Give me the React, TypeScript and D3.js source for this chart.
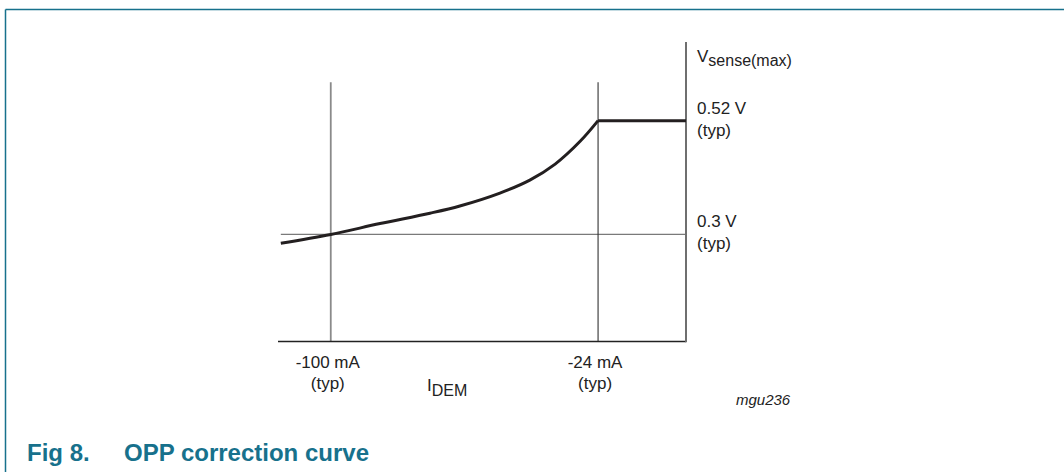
import React from 'react';
import * as d3 from 'd3';

// OPP correction curve: Vsense(max) versus IDEM
const currentMA = [-114.2, -100, -86.0, -71.8, -63.3, -51.9, -43.4, -36.2, -29.1, -24];
const vsenseV = [0.283, 0.300, 0.321, 0.341, 0.355, 0.380, 0.405, 0.436, 0.480, 0.52];
const plateauMA = [-24, 1];
const plateauV = [0.52, 0.52];

const xTicks = [-100, -24];
const xTickLabels = ['-100 mA', '-24 mA'];
const yTicks = [0.3, 0.52];
const yTickLabels = ['0.3 V', '0.52 V'];

const teal = '#17718c';
const font = 'Liberation Sans, Arial, sans-serif';

export default function App() {
  const width = 1064;
  const height = 472;

  const x = d3.scaleLinear().domain([-115, 1]).range([278, 686]);
  const y = d3.scaleLinear().domain([0.093, 0.672]).range([341.5, 42]);

  const curvePts: [number, number][] = currentMA.map((d, i) => [d, vsenseV[i]]);
  const plateauPts: [number, number][] = plateauMA.map((d, i) => [d, plateauV[i]]);

  const smooth = d3.line<[number, number]>()
    .x(d => x(d[0]))
    .y(d => y(d[1]))
    .curve(d3.curveCatmullRom.alpha(0.5));
  const straight = d3.line<[number, number]>().x(d => x(d[0])).y(d => y(d[1]));

  const axisX = x(1);
  const axisY = y(0.093);
  const gridTop = y(0.594);

  return (
    <svg width={width} height={height} style={{ position: 'absolute', left: 0, top: 0 }} fontFamily={font}>
      <rect width={width} height={height} fill="#fff" />
      {/* frame */}
      <line x1={5.5} x2={width} y1={9.5} y2={9.5} stroke={teal} strokeWidth={1.5} />
      <line x1={5.5} x2={5.5} y1={9.5} y2={height} stroke={teal} strokeWidth={1.5} />

      {/* reference lines */}
      <line x1={x(currentMA[0])} x2={axisX} y1={y(0.3)} y2={y(0.3)} stroke="#7a7a7a" strokeWidth={1.2} />
      <line x1={x(-100)} x2={x(-100)} y1={gridTop} y2={axisY} stroke="#8a8a8a" strokeWidth={1.8} />
      <line x1={x(-24)} x2={x(-24)} y1={gridTop} y2={axisY} stroke="#333" strokeWidth={1.1} />

      {/* axes */}
      <line x1={x(-115)} x2={axisX} y1={axisY} y2={axisY} stroke="#222" strokeWidth={1.6} />
      <line x1={axisX} x2={axisX} y1={y(0.672)} y2={axisY + 0.8} stroke="#6f6f6f" strokeWidth={2} />

      {/* curve */}
      <path d={smooth(curvePts) ?? ''} fill="none" stroke="#231f20" strokeWidth={3} />
      <path d={straight(plateauPts) ?? ''} fill="none" stroke="#231f20" strokeWidth={3} />

      {/* y labels */}
      <text x={axisX + 11} y={62} fontSize={17} fill="#222">
        V<tspan fontSize={16} dy={4}>sense(max)</tspan>
      </text>
      {yTicks.map((v, i) => (
        <g key={v} fontSize={17} fill="#222">
          <text x={axisX + 11} y={y(v) - 7}>{yTickLabels[i]}</text>
          <text x={axisX + 11} y={y(v) + 15}>(typ)</text>
        </g>
      ))}

      {/* x labels */}
      {xTicks.map((v, i) => (
        <g key={v} fontSize={17} fill="#222" textAnchor="middle">
          <text x={x(v) - 3} y={368}>{xTickLabels[i]}</text>
          <text x={x(v) - 3} y={389}>(typ)</text>
        </g>
      ))}
      <text x={427} y={391} fontSize={17} fill="#222">
        I<tspan fontSize={16} dy={5}>DEM</tspan>
      </text>
      <text x={736} y={405} fontSize={15} fontStyle="italic" fill="#222">mgu236</text>

      {/* caption */}
      <text x={27} y={461} fontSize={24} fontWeight="bold" fill={teal}>Fig 8.</text>
      <text x={124} y={461} fontSize={24} fontWeight="bold" fill={teal}>OPP correction curve</text>
    </svg>
  );
}
